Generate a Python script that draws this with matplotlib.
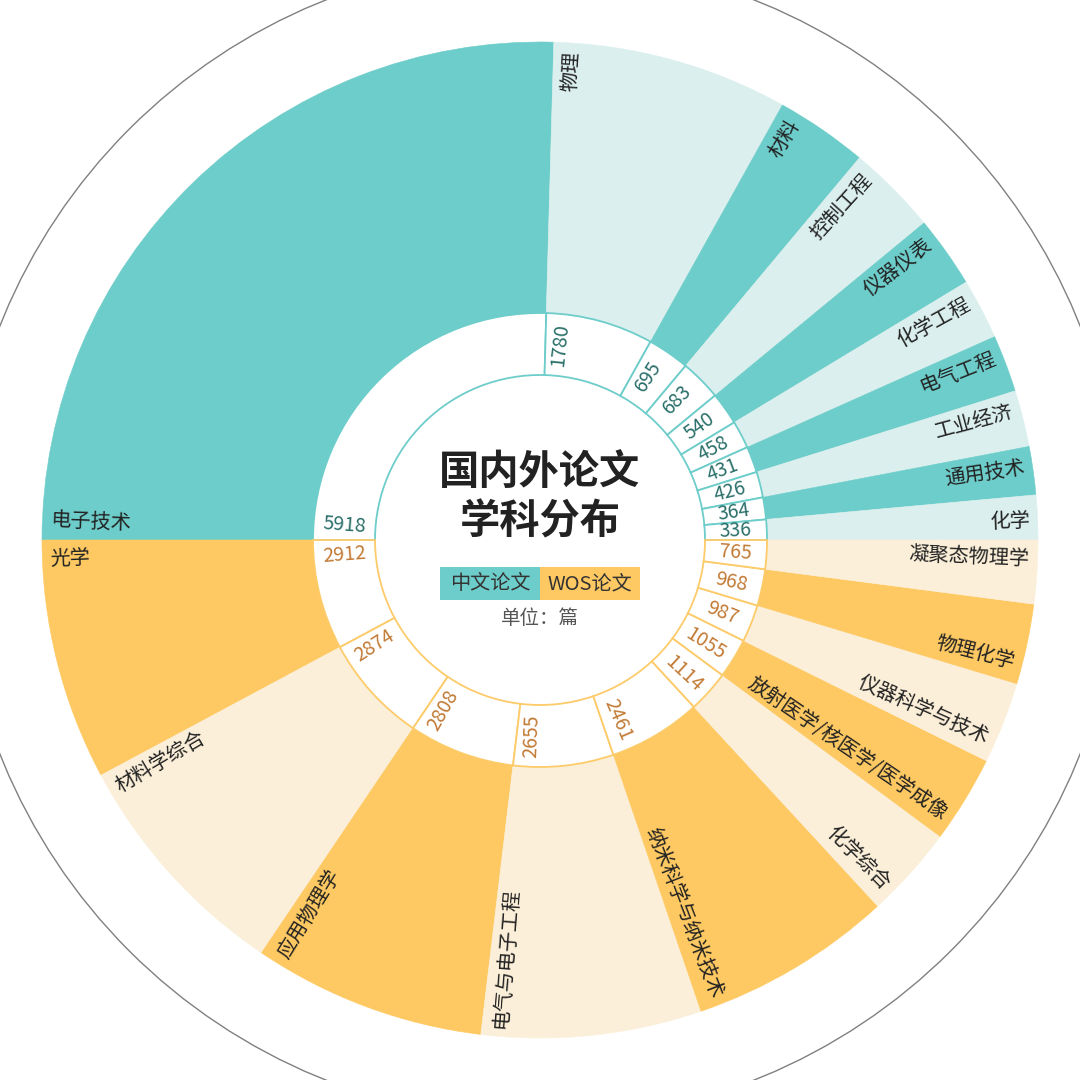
import numpy as np
import matplotlib
matplotlib.use('Agg')
import matplotlib.pyplot as plt
from matplotlib.patches import Wedge, Rectangle, Circle

plt.rcParams['font.family'] = ['Noto Sans CJK SC', 'DejaVu Sans']

# 中文论文 - upper half, clockwise from the left
cn_names = ['电子技术', '物理', '材料', '控制工程', '仪器仪表',
            '化学工程', '电气工程', '工业经济', '通用技术', '化学']
cn_values = [5918, 1780, 695, 683, 540, 458, 431, 426, 364, 336]

# WOS论文 - lower half, counter-clockwise from the left
wos_names = ['光学', '材料学综合', '应用物理学', '电气与电子工程', '纳米科学与纳米技术',
             '化学综合', '放射医学/核医学/医学成像', '仪器科学与技术', '物理化学', '凝聚态物理学']
wos_values = [2912, 2874, 2808, 2655, 2461, 1114, 1055, 987, 968, 765]

TEAL, TEAL_L, TEAL_TXT = '#6dcdca', '#dbf0ee', '#2a6f69'
YEL, YEL_L, YEL_TXT, YEL_EDGE = '#fec962', '#fbefd9', '#c27a35', '#fdcb6a'

R_OUT, R_MID, R_IN = 498, 227, 165

fig = plt.figure(figsize=(10.8, 10.8), dpi=100)
ax = fig.add_axes([0, 0, 1, 1])
ax.set_xlim(-540, 540)
ax.set_ylim(-540, 540)
ax.set_aspect('equal')
ax.axis('off')


def text_rot(a):
    a = a % 360
    if 90 < a < 270:
        return a - 180, 'left'
    return (a if a <= 90 else a - 360), 'right'


def draw_half(names, values, sign, dark, light, edge, txtc):
    total = sum(values)
    start = 180.0
    n = len(values)
    for i, (name, v) in enumerate(zip(names, values)):
        w = 180.0 * v / total
        end = start + sign * w
        t1, t2 = min(start, end), max(start, end)
        col = dark if i % 2 == 0 else light
        ax.add_patch(Wedge((0, 0), R_OUT, t1, t2, width=R_OUT - R_MID,
                           facecolor=col, edgecolor=col, lw=0.4, zorder=1))
        ax.add_patch(Wedge((0, 0), R_MID, t1, t2, width=R_MID - R_IN,
                           facecolor='white', edgecolor=edge, lw=1.3, zorder=2))

        # labels sit next to one edge of the wedge (last one hugs the horizontal)
        if i == n - 1:
            ref, d = end, -sign
        else:
            ref, d = start, sign
        a_out = ref + d * min(w / 2, np.degrees(18 / 450))
        a_in = ref + d * min(w / 2, np.degrees(15 / 196))

        rot, ha = text_rot(a_out)
        r = 490
        ax.text(r * np.cos(np.radians(a_out)), r * np.sin(np.radians(a_out)), name,
                rotation=rot, rotation_mode='anchor', ha=ha, va='center',
                fontsize=14.5, color='#222222', zorder=3)

        rot, _ = text_rot(a_in)
        r = 196
        ax.text(r * np.cos(np.radians(a_in)), r * np.sin(np.radians(a_in)), str(v),
                rotation=rot, rotation_mode='anchor', ha='center', va='center',
                fontsize=14, color=txtc, zorder=3)
        start = end


draw_half(cn_names, cn_values, -1, TEAL, TEAL_L, TEAL, TEAL_TXT)
draw_half(wos_names, wos_values, 1, YEL, YEL_L, YEL_EDGE, YEL_TXT)

# outer thin ring
ax.add_patch(Circle((0, 0), 581, fill=False, edgecolor='#808080', lw=1.0, zorder=0))

# title in the middle
ax.text(0, 68, '国内外论文', ha='center', va='center', fontsize=29,
        fontweight='bold', color='#222222', zorder=4)
ax.text(0, 18, '学科分布', ha='center', va='center', fontsize=29,
        fontweight='bold', color='#222222', zorder=4)

# legend
ax.add_patch(Rectangle((-100, -60), 100, 33, facecolor=TEAL, edgecolor='none', zorder=4))
ax.add_patch(Rectangle((0, -60), 100, 33, facecolor=YEL, edgecolor='none', zorder=4))
ax.text(-50, -43.5, '中文论文', ha='center', va='center', fontsize=14.5, color='#333333', zorder=5)
ax.text(50, -43.5, 'WOS论文', ha='center', va='center', fontsize=14.5, color='#333333', zorder=5)
ax.text(0, -78, '单位：篇', ha='center', va='center', fontsize=14, color='#555555', zorder=5)

fig.savefig('out.png', dpi=100, facecolor='white')
